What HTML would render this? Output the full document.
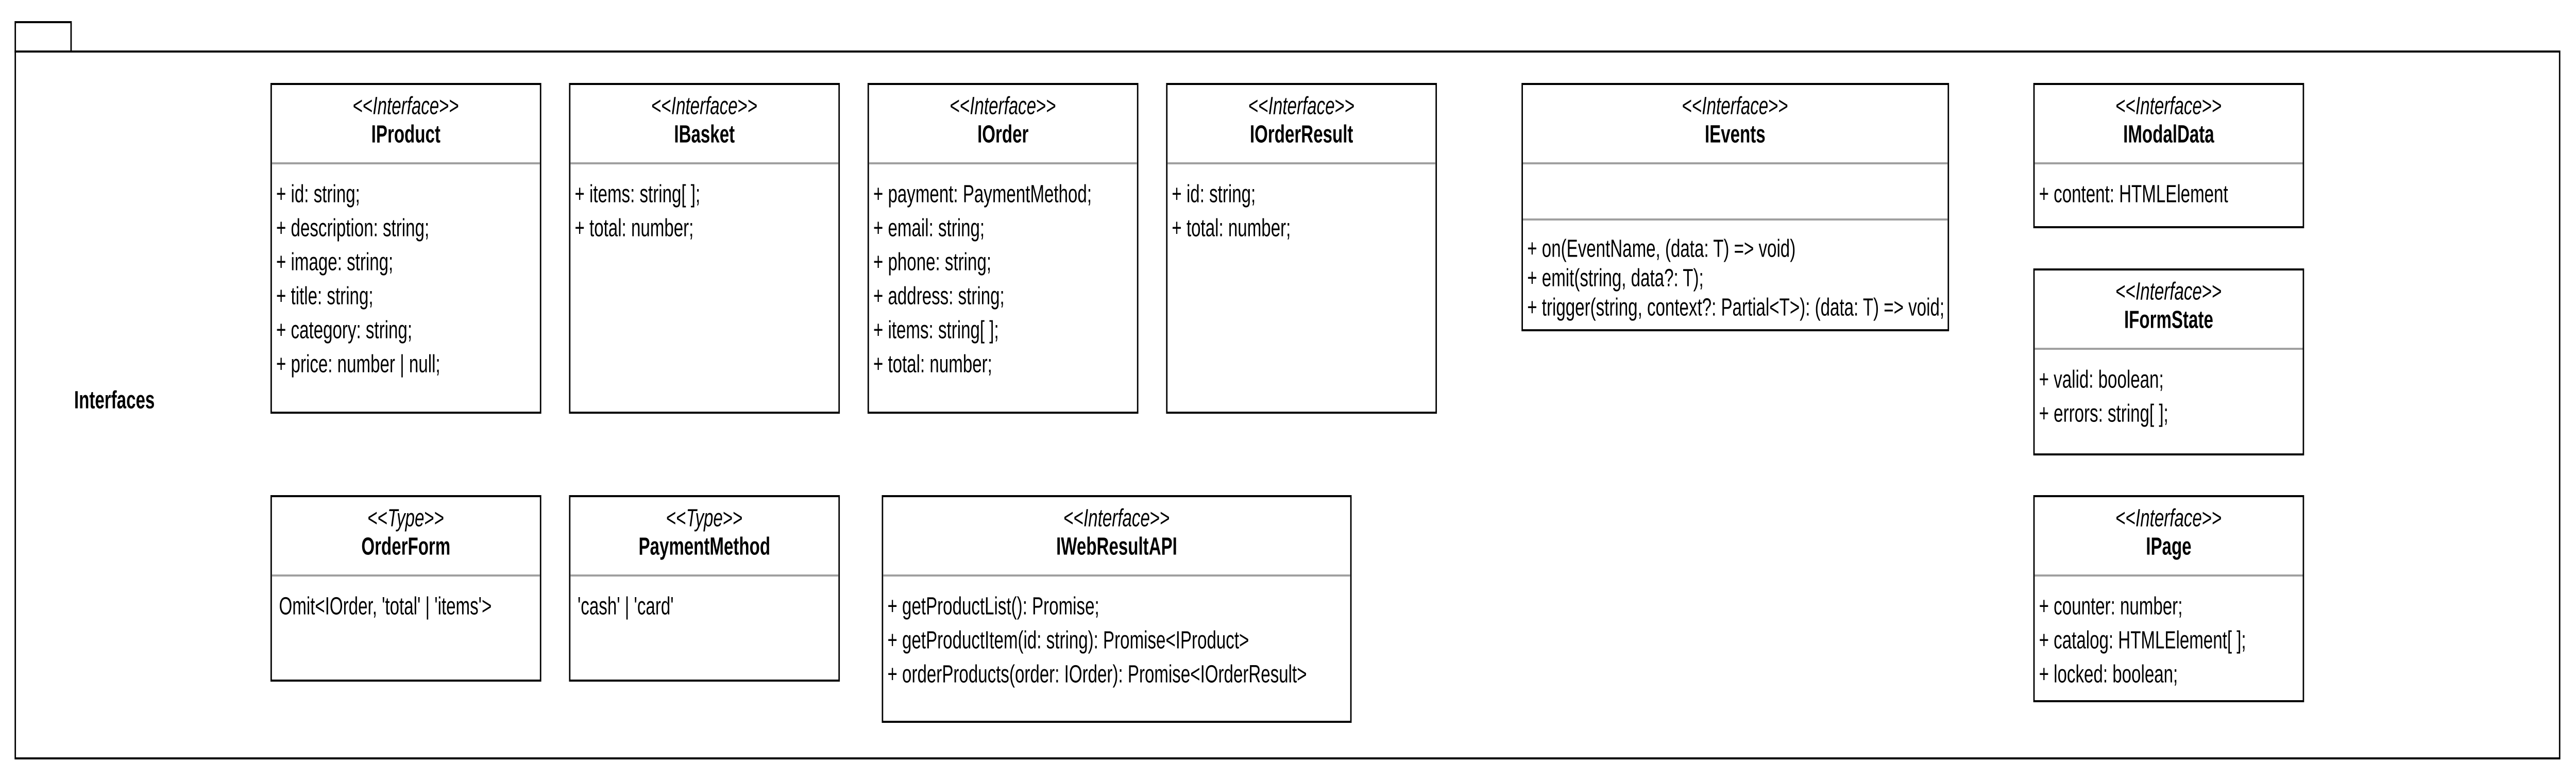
<!DOCTYPE html>
<html><head><meta charset="utf-8"><style>
html,body{margin:0;padding:0;background:#fff;overflow:hidden;}
svg{display:block;width:100vw;height:100vh;}
text{font-family:"Liberation Sans",Arial,sans-serif;font-size:48px;fill:#000;dominant-baseline:central;}
.c{text-anchor:middle;}
.b{font-weight:bold;}
.i{font-style:italic;}
rect.s{fill:#fff;stroke:#000;stroke-width:4;}
rect.d{fill:#a0a0a0;}
</style></head><body>
<svg viewBox="0 0 7248 1512" preserveAspectRatio="none" xmlns="http://www.w3.org/2000/svg">
<rect x="0" y="0" width="7248" height="1512" fill="#fff"/>
<rect class="s" x="43" y="43" width="157" height="57"/>
<rect class="s" x="43" y="100" width="7159" height="1372"/>
<text class="c b" x="322" y="776">Interfaces</text>

<!-- IProduct -->
<rect class="s" x="763" y="163" width="758" height="638"/>
<rect class="d" x="765" y="315" width="754" height="4"/>
<text class="c" x="1142" y="205">&lt;&lt;<tspan class="i">Interface</tspan>&gt;&gt;</text>
<text class="c b" x="1142" y="260">IProduct</text>
<text x="777" y="376">+ id: string;</text>
<text x="777" y="442">+ description: string;</text>
<text x="777" y="508">+ image: string;</text>
<text x="777" y="574">+ title: string;</text>
<text x="777" y="640">+ category: string;</text>
<text x="777" y="706">+ price: number | null;</text>

<!-- IBasket -->
<rect class="s" x="1603" y="163" width="758" height="638"/>
<rect class="d" x="1605" y="315" width="754" height="4"/>
<text class="c" x="1982" y="205">&lt;&lt;<tspan class="i">Interface</tspan>&gt;&gt;</text>
<text class="c b" x="1982" y="260">IBasket</text>
<text x="1617" y="376">+ items: string[ ];</text>
<text x="1617" y="442">+ total: number;</text>

<!-- IOrder -->
<rect class="s" x="2443" y="163" width="758" height="638"/>
<rect class="d" x="2445" y="315" width="754" height="4"/>
<text class="c" x="2822" y="205">&lt;&lt;<tspan class="i">Interface</tspan>&gt;&gt;</text>
<text class="c b" x="2822" y="260">IOrder</text>
<text x="2457" y="376">+ payment: PaymentMethod;</text>
<text x="2457" y="442">+ email: string;</text>
<text x="2457" y="508">+ phone: string;</text>
<text x="2457" y="574">+ address: string;</text>
<text x="2457" y="640">+ items: string[ ];</text>
<text x="2457" y="706">+ total: number;</text>

<!-- IOrderResult -->
<rect class="s" x="3283" y="163" width="758" height="638"/>
<rect class="d" x="3285" y="315" width="754" height="4"/>
<text class="c" x="3662" y="205">&lt;&lt;<tspan class="i">Interface</tspan>&gt;&gt;</text>
<text class="c b" x="3662" y="260">IOrderResult</text>
<text x="3297" y="376">+ id: string;</text>
<text x="3297" y="442">+ total: number;</text>

<!-- IEvents -->
<rect class="s" x="4283" y="163" width="1199" height="478"/>
<rect class="d" x="4285" y="315" width="1195" height="4"/>
<rect class="d" x="4285" y="424" width="1195" height="4"/>
<text class="c" x="4882" y="205">&lt;&lt;<tspan class="i">Interface</tspan>&gt;&gt;</text>
<text class="c b" x="4882" y="260">IEvents</text>
<text x="4297" y="482">+ on(EventName, (data: T) =&gt; void)</text>
<text x="4297" y="539">+ emit(string, data?: T);</text>
<text x="4297" y="596">+ trigger(string, context?: Partial&lt;T&gt;): (data: T) =&gt; void;</text>

<!-- IModalData -->
<rect class="s" x="5723" y="163" width="758" height="278"/>
<rect class="d" x="5725" y="315" width="754" height="4"/>
<text class="c" x="6102" y="205">&lt;&lt;<tspan class="i">Interface</tspan>&gt;&gt;</text>
<text class="c b" x="6102" y="260">IModalData</text>
<text x="5737" y="376">+ content: HTMLElement</text>

<!-- IFormState -->
<rect class="s" x="5723" y="523" width="758" height="359"/>
<rect class="d" x="5725" y="675" width="754" height="4"/>
<text class="c" x="6102" y="565">&lt;&lt;<tspan class="i">Interface</tspan>&gt;&gt;</text>
<text class="c b" x="6102" y="620">IFormState</text>
<text x="5737" y="736">+ valid: boolean;</text>
<text x="5737" y="802">+ errors: string[ ];</text>

<!-- IPage -->
<rect class="s" x="5723" y="963" width="758" height="398"/>
<rect class="d" x="5725" y="1115" width="754" height="4"/>
<text class="c" x="6102" y="1005">&lt;&lt;<tspan class="i">Interface</tspan>&gt;&gt;</text>
<text class="c b" x="6102" y="1060">IPage</text>
<text x="5737" y="1176">+ counter: number;</text>
<text x="5737" y="1242">+ catalog: HTMLElement[ ];</text>
<text x="5737" y="1308">+ locked: boolean;</text>

<!-- OrderForm -->
<rect class="s" x="763" y="963" width="758" height="358"/>
<rect class="d" x="765" y="1115" width="754" height="4"/>
<text class="c" x="1142" y="1005">&lt;&lt;<tspan class="i">Type</tspan>&gt;&gt;</text>
<text class="c b" x="1142" y="1060">OrderForm</text>
<text x="785" y="1176">Omit&lt;IOrder, 'total' | 'items'&gt;</text>

<!-- PaymentMethod -->
<rect class="s" x="1603" y="963" width="758" height="358"/>
<rect class="d" x="1605" y="1115" width="754" height="4"/>
<text class="c" x="1982" y="1005">&lt;&lt;<tspan class="i">Type</tspan>&gt;&gt;</text>
<text class="c b" x="1982" y="1060">PaymentMethod</text>
<text x="1625" y="1176">'cash' | 'card'</text>

<!-- IWebResultAPI -->
<rect class="s" x="2483" y="963" width="1318" height="438"/>
<rect class="d" x="2485" y="1115" width="1314" height="4"/>
<text class="c" x="3142" y="1005">&lt;&lt;<tspan class="i">Interface</tspan>&gt;&gt;</text>
<text class="c b" x="3142" y="1060">IWebResultAPI</text>
<text x="2497" y="1176">+ getProductList(): Promise;</text>
<text x="2497" y="1242">+ getProductItem(id: string): Promise&lt;IProduct&gt;</text>
<text x="2497" y="1308">+ orderProducts(order: IOrder): Promise&lt;IOrderResult&gt;</text>
</svg>
</body></html>
